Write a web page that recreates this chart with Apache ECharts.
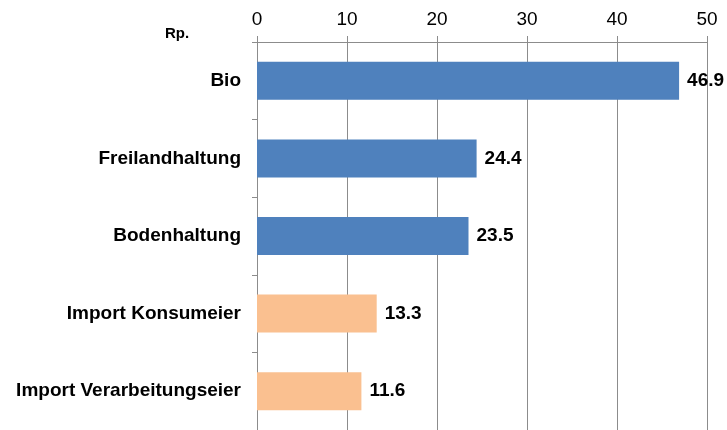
<!DOCTYPE html>
<html>
<head>
<meta charset="utf-8">
<script src="https://cdn.jsdelivr.net/npm/echarts@6/dist/echarts.min.js"></script>
<style>
  html, body { margin: 0; padding: 0; background: #fff; }
  #chart { width: 727px; height: 430px; }
</style>
</head>
<body>
<div id="chart"></div>
<script>
  // Kategorien und Werte (Rp.)
  const categories = ['Bio', 'Freilandhaltung', 'Bodenhaltung', 'Import Konsumeier', 'Import Verarbeitungseier'];
  const values = [46.9, 24.4, 23.5, 13.3, 11.6];
  const barColors = ['#4F81BD', '#4F81BD', '#4F81BD', '#FAC090', '#FAC090'];
  const unitLabel = 'Rp.';

  const myEcharts = echarts.init(document.getElementById('chart'));
  const fontFamily = 'Liberation Sans, Arial, sans-serif';

  let option = {
    backgroundColor: '#ffffff',
    animation: false,
    textStyle: { fontFamily: fontFamily },
    title: {
      text: unitLabel,
      left: 160,
      top: 21,
      textStyle: { fontSize: 15, fontWeight: 'bold', color: '#000', fontFamily: fontFamily }
    },
    grid: {
      left: 257,
      top: 42,
      width: 450,
      height: 392
    },
    xAxis: {
      type: 'value',
      position: 'top',
      min: 0,
      max: 50,
      interval: 10,
      axisLine: { show: true, lineStyle: { color: '#8c8c8c', width: 1 } },
      axisTick: { show: true, length: 6, lineStyle: { color: '#8c8c8c' } },
      splitLine: { show: true, lineStyle: { color: '#8c8c8c', width: 1 } },
      axisLabel: { fontSize: 19, color: '#000', margin: 13, fontFamily: fontFamily }
    },
    yAxis: {
      type: 'category',
      data: categories,
      inverse: true,
      axisLine: { show: true, lineStyle: { color: '#8c8c8c', width: 1 } },
      axisTick: { show: true, length: 5, alignWithLabel: false, lineStyle: { color: '#8c8c8c' } },
      axisLabel: { fontSize: 19, fontWeight: 'bold', color: '#000', margin: 16, fontFamily: fontFamily }
    },
    series: [{
      type: 'bar',
      data: values.map((v, i) => ({ value: v, itemStyle: { color: barColors[i] } })),
      barWidth: 38,
      label: {
        show: true,
        position: 'right',
        distance: 8,
        fontSize: 19,
        fontWeight: 'bold',
        color: '#000',
        fontFamily: fontFamily
      }
    }]
  };
  myEcharts.setOption(option);
</script>
</body>
</html>
